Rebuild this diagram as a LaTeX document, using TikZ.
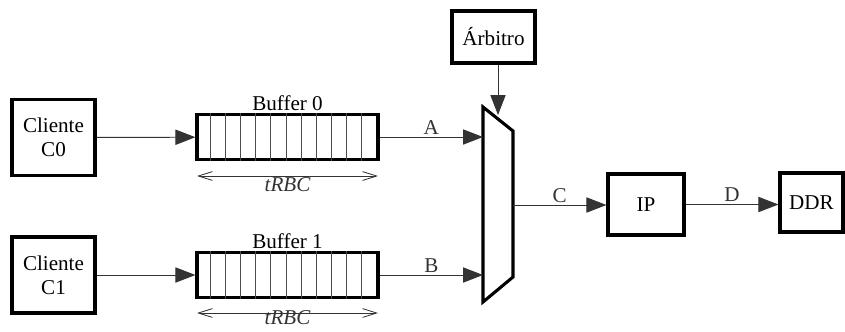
\documentclass[tikz,border=0pt]{standalone}
\usepackage{fontspec}
\setmainfont{Liberation Serif}
\usepackage{tikz}
\usetikzlibrary{arrows.meta,positioning}
\tikzset{
  blk/.style={draw, line width=2.2pt, fill=white, align=center, inner sep=0pt, font=\fontsize{15}{17.3}\selectfont},
  fifo/.style={blk, minimum width=4.525cm, minimum height=1.125cm},
  wire/.style={-{Triangle[length=5mm, width=3.8mm]}, line width=0.7pt, black!80},
  span/.style={{Straight Barb[length=3.5mm, width=2.2mm]}-{Straight Barb[length=3.5mm, width=2.2mm]}, line width=0.6pt, black!80},
  lbl/.style={font=\fontsize{15}{17.3}\selectfont, inner sep=1.5pt}
}

\begin{document}
\begin{tikzpicture}[x=0.025cm, y=-0.025cm]
\useasboundingbox (0,0) rectangle (845,331);
% clients
\node[blk, minimum width=2.075cm, minimum height=1.9cm] (cli0) at (53.5,137.5) {Cliente\\C0};
\node[blk, minimum width=2.075cm, minimum height=1.9cm] (cli1) at (53.5,275) {Cliente\\C1};
% buffers with their cells
\node[fifo] (buf0) at (287.5,137) {};
\node[fifo] (buf1) at (287.5,275) {};
\foreach \b in {buf0,buf1}
  \foreach \i in {1,...,11}
    \draw[line width=0.6pt, black!70] ([xshift=\i*0.377cm]\b.north west) -- ([xshift=\i*0.377cm]\b.south west);
\node[lbl, above=0pt of buf0] (buf0lbl) {Buffer 0};
\node[lbl, above=0pt of buf1] (buf1lbl) {Buffer 1};
% access time spans
\coordinate (t0a) at (197,176); \coordinate (t0b) at (378,176);
\coordinate (t1a) at (197,313); \coordinate (t1b) at (378,313);
\draw[span] (t0a) -- (t0b) node[lbl, midway, below=-1pt] (t0lbl) {\itshape tRBC};
\draw[span] (t1a) -- (t1b) node[lbl, midway, below=-3.5pt] (t1lbl) {\itshape tRBC};
% arbiter and multiplexer
\node[blk, minimum width=2.075cm, minimum height=1.3cm] (arb) at (493.5,37) {Árbitro};
\coordinate (mux1) at (483,107);
\coordinate (mux2) at (513,131);
\coordinate (mux3) at (513,277);
\coordinate (mux4) at (483,302);
\draw[line width=2.2pt, line join=miter] (mux1) -- (mux2) -- (mux3) -- (mux4) -- cycle;
\coordinate (muxA) at (483,137);
\coordinate (muxB) at (483,275);
\coordinate (muxC) at (513,205);
\coordinate (muxS) at (498,115);
% memory side
\node[blk, minimum width=1.9cm, minimum height=1.525cm] (ip) at (646,204.5) {IP};
\node[blk, minimum width=1.575cm, minimum height=1.475cm] (ddr) at (811.5,202.5) {DDR};
% connections
\draw[wire] (cli0) -- (buf0);
\draw[wire] (cli1) -- (buf1);
\draw[wire] (buf0) -- node[lbl, above] {A} (muxA);
\draw[wire] (buf1) -- node[lbl, above] {B} (muxB);
\draw[wire] (arb.south -| muxS) -- (muxS);
\draw[wire] (muxC) -- node[lbl, above] {C} (ip.west |- muxC);
\draw[wire] (ip) -- node[lbl, above] {D} (ddr.west |- ip);
\end{tikzpicture}
\end{document}
